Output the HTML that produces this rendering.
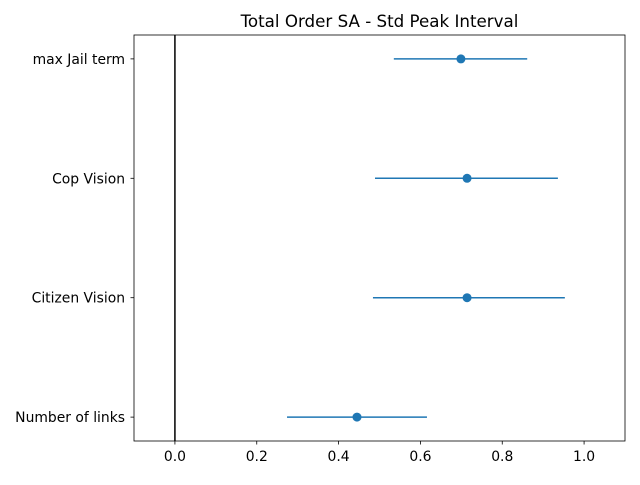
<!DOCTYPE html>
<html><head><meta charset="utf-8"><style>
body{margin:0;background:#fff}
svg text{font-family:"DejaVu Sans","Liberation Sans",sans-serif;font-size:13.9px;fill:#000}
</style></head><body>
<svg width="640" height="480">
<g id="plot"></g>
</svg>
<script>
const categories=["Number of links","Citizen Vision","Cop Vision","max Jail term"];
const means=[0.445,0.714,0.714,0.699];
const lows=[0.274,0.484,0.489,0.535];
const highs=[0.616,0.953,0.936,0.861];
const xTicks=[0.0,0.2,0.4,0.6,0.8,1.0];
const xTickLabels=["0.0","0.2","0.4","0.6","0.8","1.0"];

const L=134,R=625,T=35,B=441,x0=-0.1,x1=1.1,y0=-0.2,y1=3.2;
const sx=v=>L+(v-x0)/(x1-x0)*(R-L);
const sy=v=>B-(v-y0)/(y1-y0)*(B-T);
const NS="http://www.w3.org/2000/svg";
const g=document.getElementById('plot');
function mk(t,a,parent){const e=document.createElementNS(NS,t);for(const k in a)e.setAttribute(k,a[k]);(parent||g).appendChild(e);return e;}

const zl=mk('line',{x1:sx(0),x2:sx(0),y1:T,y2:B,stroke:'#000','stroke-width':1.5});



categories.forEach((c,i)=>{
  const y=sy(i);
  const ln=mk('line',{x1:sx(lows[i]),x2:sx(highs[i]),y1:y,y2:y,stroke:'#1f77b4','stroke-width':1.5});
  
  
  const pt=mk('circle',{cx:sx(means[i]),cy:y,r:4.5,fill:'#1f77b4'});
  
  
  mk('line',{x1:L-3.5,x2:L,y1:y,y2:y,stroke:'#000','stroke-width':0.8});
  const tx=mk('text',{x:L-9,y:y+5,'text-anchor':'end'});
  tx.textContent=c;
  
  
});
xTicks.forEach((v,i)=>{
  const x=sx(v);
  mk('line',{x1:x,x2:x,y1:B,y2:B+3.5,stroke:'#000','stroke-width':0.8});
  const tx=mk('text',{x:x,y:B+20,'text-anchor':'middle'});
  tx.textContent=xTickLabels[i];
  
  
});
const fr=mk('rect',{x:L,y:T,width:R-L,height:B-T,fill:'none',stroke:'#000','stroke-width':0.8});


const ti=mk('text',{x:(L+R)/2,y:T-8,'text-anchor':'middle',style:'font-size:16.7px'});
ti.textContent="Total Order SA - Std Peak Interval";


</script>
</body></html>
